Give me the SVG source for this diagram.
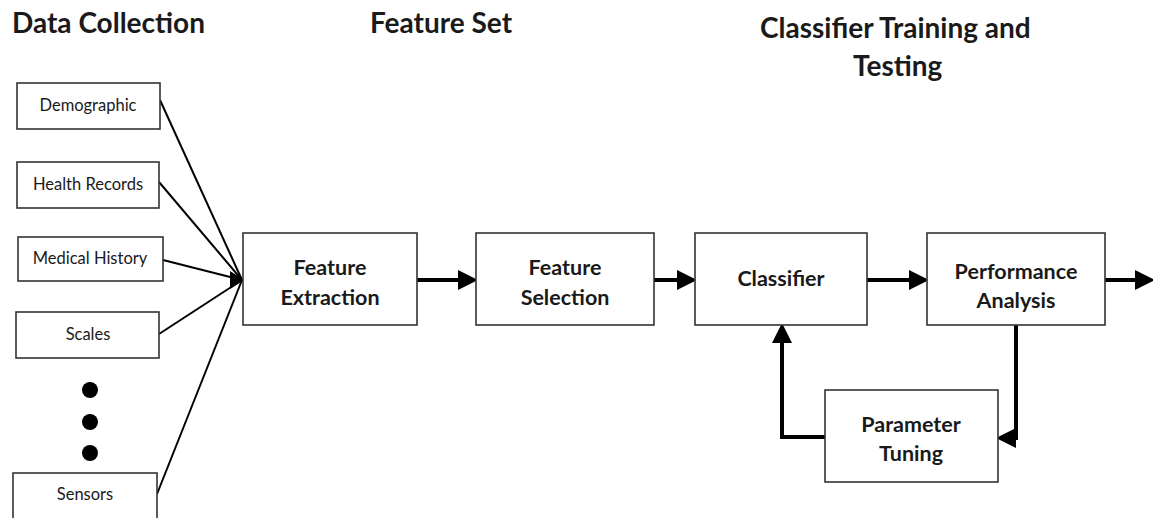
<svg xmlns="http://www.w3.org/2000/svg" width="1153" height="518" viewBox="0 0 1153 518">
<style>
.box{fill:#fff;stroke:#333;stroke-width:1.6}
.t{font-family:Lato,"Open Sans",sans-serif;fill:#1a1a1a;text-anchor:middle}
.small{font-size:16.5px}
.big{font-size:21.5px;font-weight:bold}
.title{font-size:28px;font-weight:bold;text-anchor:start}
.thin{stroke:#000;stroke-width:2;fill:none}
.thick{stroke:#000;stroke-width:4;fill:none}
</style>
<defs>
<marker id="ah" markerWidth="5" markerHeight="5" refX="4" refY="2.5" orient="auto" markerUnits="strokeWidth">
<path d="M0,0 L5,2.5 L0,5 z" fill="#000"/>
</marker>
</defs>
<g id="titles">
<text class="t title" x="12" y="33">Data Collection</text>
<text class="t title" x="370" y="33">Feature Set</text>
<text class="t title" x="760" y="38">Classifier Training and</text>
<text class="t title" x="853" y="76">Testing</text>
</g>
<g id="connectors">
<line class="thin" x1="160" y1="100" x2="242" y2="280"/>
<line class="thin" x1="159" y1="182" x2="242" y2="280"/>
<line class="thin" x1="163" y1="260" x2="242" y2="280"/>
<line class="thin" x1="159" y1="334" x2="242" y2="280"/>
<line class="thin" x1="157" y1="494" x2="242" y2="280"/>
<path d="M230,271 L244,280 L230,289 z" fill="#000"/>
<line class="thick" x1="417" y1="280" x2="474" y2="280" marker-end="url(#ah)"/>
<line class="thick" x1="654" y1="280" x2="693" y2="280" marker-end="url(#ah)"/>
<line class="thick" x1="867" y1="280" x2="925" y2="280" marker-end="url(#ah)"/>
<line class="thick" x1="1105" y1="280" x2="1151" y2="280" marker-end="url(#ah)"/>
<polyline class="thick" points="1016,325 1016,438 1000,438" marker-end="url(#ah)"/>
<polyline class="thick" points="825,437 782,437 782,327" marker-end="url(#ah)"/>
</g>
<g id="demographic"><rect class="box" x="17" y="83" width="143" height="46"/><text class="t small" x="88" y="111">Demographic</text></g>
<g id="health"><rect class="box" x="17" y="162" width="142" height="46"/><text class="t small" x="88" y="190">Health Records</text></g>
<g id="medical"><rect class="box" x="18" y="237" width="145" height="44"/><text class="t small" x="90" y="264">Medical History</text></g>
<g id="scales"><rect class="box" x="16" y="312" width="143" height="46"/><text class="t small" x="88" y="340">Scales</text></g>
<g id="dots"><circle cx="90" cy="390" r="8"/><circle cx="90" cy="422" r="8"/><circle cx="90" cy="453" r="8"/></g>
<g id="sensors"><rect class="box" x="13" y="473" width="144" height="60"/><text class="t small" x="85" y="500">Sensors</text></g>
<g id="extraction"><rect class="box" x="243" y="233" width="174" height="92"/><text class="t big" x="330" y="275">Feature</text><text class="t big" x="330" y="305">Extraction</text></g>
<g id="selection"><rect class="box" x="476" y="233" width="178" height="92"/><text class="t big" x="565" y="275">Feature</text><text class="t big" x="565" y="305">Selection</text></g>
<g id="classifier"><rect class="box" x="695" y="233" width="172" height="92"/><text class="t big" x="781" y="286">Classifier</text></g>
<g id="performance"><rect class="box" x="927" y="233" width="178" height="92"/><text class="t big" x="1016" y="279">Performance</text><text class="t big" x="1016" y="308">Analysis</text></g>
<g id="tuning"><rect class="box" x="825" y="390" width="173" height="92"/><text class="t big" x="911" y="432">Parameter</text><text class="t big" x="911" y="461">Tuning</text></g>
</svg>
